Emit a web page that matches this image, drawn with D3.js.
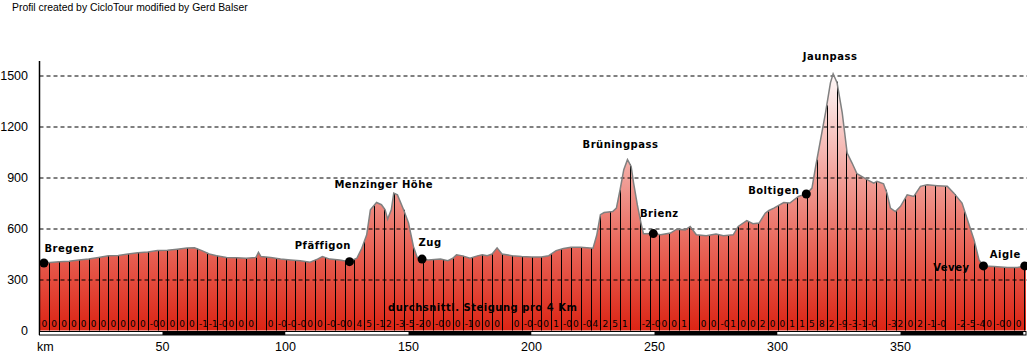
<!DOCTYPE html>
<html>
<head>
<meta charset="utf-8">
<script src="https://cdn.jsdelivr.net/npm/d3@7"></script>
<style>
  body { margin: 0; background: #fff; }
  svg { display: block; }
  .tick-label { font-family: "Liberation Sans", Arial, sans-serif; font-size: 12.5px; fill: #000; }
  .place { font-family: "DejaVu Sans", sans-serif; font-weight: bold; font-size: 10px; letter-spacing: 0.5px; fill: #000; }
  .grad { font-family: "DejaVu Sans", sans-serif; font-size: 9px; fill: #000; }
</style>
</head>
<body>
<div id="chart"></div>
<script>
// Hoehenprofil Bregenz - Aigle

const kmPts = [0, 3, 8, 12, 16, 20, 24, 28, 32, 36, 40, 44, 48, 52, 56, 60, 63, 66, 69, 72, 76, 80, 84, 88, 89, 90,
  94, 98, 102, 106, 110, 113, 115, 118, 122, 126, 129, 131, 133, 134.5, 137, 139, 140.5, 141.5, 143, 144, 145.5,
  148, 150, 152, 153.5, 155.5, 158, 163, 166, 168, 169.5, 172, 175, 178, 180, 182, 184, 186, 188, 192, 196, 200,
  204, 207, 210, 213, 216, 220, 225, 226.5, 228, 229.5, 233, 234.5, 236, 237.5, 239, 240.5, 241.5, 243, 244.5,
  245.5, 249.5, 252.5, 256.5, 259, 262.5, 264.5, 267, 271, 275, 278, 282, 284, 287.5, 290, 292.5, 295, 296.5,
  298.5, 302.5, 305, 308.5, 311.7, 314, 315.5, 317.5, 319.5, 321.5, 322.6, 324.2, 326.3, 328.3, 330.3, 332.3,
  336.4, 339.1, 340.4, 343.1, 344.5, 345.9, 347.9, 350, 352.7, 355.4, 358.1, 360.8, 364.9, 369, 371.7, 375,
  377.2, 379.9, 381.9, 383.7, 388, 393.5, 397.5, 400.5, 401];
const elevPts = [395, 398, 405, 408, 415, 420, 430, 440, 441, 450, 458, 462, 470, 472, 478, 485, 487, 470, 450, 440,
  430, 428, 425, 430, 460, 435, 430, 420, 415, 410, 402, 420, 435, 420, 415, 405, 425, 484, 563, 710, 753, 740,
  710, 655, 710, 808, 798, 710, 632, 494, 431, 420, 415, 420, 411, 425, 445, 439, 425, 439, 445, 440, 450, 486,
  450, 440, 435, 432, 432, 440, 470, 482, 490, 490, 484, 560, 681, 694, 700, 720, 828, 946, 1005, 965, 867, 740,
  632, 569, 570, 563, 573, 596, 592, 612, 563, 557, 567, 557, 563, 612, 647, 628, 632, 690, 706, 720, 753, 750,
  789, 803, 838, 965, 1123, 1280, 1457, 1510, 1457, 1280, 1044, 985, 922, 887, 867, 877, 863, 808, 720, 700, 730,
  798, 789, 848, 857, 852, 848, 808, 750, 651, 533, 415, 380, 376, 370, 370, 380, 382];

// durchschnittliche Steigung pro 4 km (Segmente ab km 0)
const gradLabels = ["0", "0", "0", "0", "0", "0", "0", "0", "0", "0", "0", "-0", "0", "0", "0", "0", "-1", "-1", "-0", "0",
  "0", "0", "", "0", "-0", "-0", "-0", "0", "0", "-0", "-0", "0", "4", "5", "-1", "2", "-3", "-5", "-2", "0",
  "-0", "0", "0", "-1", "0", "0", "0", "", "0", "-0", "-0", "0", "1", "-0", "0", "-0", "4", "2", "5", "1",
  "", "-2", "-0", "0", "0", "1", "", "0", "0", "-0", "1", "0", "0", "2", "0", "0", "1", "1", "5", "8",
  "2", "-9", "-3", "-1", "-0", "", "-3", "2", "0", "2", "-1", "-0", "", "-2", "-5", "-4", "0", "-0", "0", "0", ""];

const placeNames = ["Bregenz", "Pfäffigon", "Zug", "Brienz", "Boltigen", "Vevey", "Aigle"];
const placeKm = [1.8, 126, 155.5, 249.5, 311.7, 383.7, 400.5];
const passNames = ["Menzinger Höhe", "Brüningpass", "Jaunpass"];
const passKm = [144, 239, 322.6];

const yTicks = [0, 300, 600, 900, 1200, 1500];
const xTicks = [50, 100, 150, 200, 250, 300, 350];
const barStops = [0, 50, 100, 150, 200, 250, 300, 350, 400, 401];

const width = 1027, height = 357;
const x = d3.scaleLinear().domain([0, 401]).range([39.5, 1026]);
const y = d3.scaleLinear().domain([0, 1500]).range([330.5, 75.5]);

const profile = kmPts.map((k, i) => ({ km: k, elev: elevPts[i] }));
const elevAt = k => {
  const i = Math.max(1, Math.min(kmPts.length - 1, d3.bisectLeft(kmPts, k)));
  const a = profile[i - 1], b = profile[i];
  const t = (k - a.km) / (b.km - a.km);
  return a.elev + (b.elev - a.elev) * Math.max(0, Math.min(1, t));
};

const svg = d3.select("#chart").append("svg")
  .attr("width", width)
  .attr("height", height);

svg.append("text")
  .attr("x", 12).attr("y", 11)
  .attr("font-family", "Liberation Sans, Arial, sans-serif")
  .attr("font-size", "10.4px")
  .text("Profil created by CicloTour modified by Gerd Balser");

const defs = svg.append("defs");
const grad = defs.append("linearGradient")
  .attr("id", "fillGrad")
  .attr("gradientUnits", "userSpaceOnUse")
  .attr("x1", 0).attr("x2", 0)
  .attr("y1", y(0)).attr("y2", y(1500));
grad.append("stop").attr("offset", "0%").attr("stop-color", "#dc2414");
grad.append("stop").attr("offset", "35%").attr("stop-color", "#e96a5e");
grad.append("stop").attr("offset", "100%").attr("stop-color", "#fff8f8");

// Flaeche
const area = d3.area()
  .x(d => x(d.km))
  .y0(y(0))
  .y1(d => y(d.elev));

svg.append("path")
  .datum(profile)
  .attr("d", area)
  .attr("fill", "url(#fillGrad)");

// Gitterlinien
svg.append("g")
  .selectAll("line")
  .data(yTicks.filter(v => v > 0))
  .enter().append("line")
  .attr("x1", x(0)).attr("x2", width)
  .attr("y1", d => y(d) + 0.5).attr("y2", d => y(d) + 0.5)
  .attr("stroke", "#000")
  .attr("stroke-dasharray", "4,3");

// Segmentlinien alle 4 km
const segStarts = gradLabels.map((g, i) => i * 4);
svg.append("g")
  .selectAll("line")
  .data(segStarts.filter(k => k > 0))
  .enter().append("line")
  .attr("x1", d => Math.round(x(d)) + 0.5).attr("x2", d => Math.round(x(d)) + 0.5)
  .attr("y1", y(0)).attr("y2", d => y(elevAt(d)))
  .attr("stroke", "#000")
  .attr("stroke-width", 1);

// Profillinie
svg.append("path")
  .datum(profile)
  .attr("d", d3.line().x(d => x(d.km)).y(d => y(d.elev)))
  .attr("fill", "none")
  .attr("stroke", "#808080")
  .attr("stroke-width", 1.5);

// Steigungswerte
svg.append("g")
  .selectAll("text")
  .data(gradLabels)
  .enter().append("text")
  .attr("class", "grad")
  .attr("x", (d, i) => x(i * 4) + 2)
  .attr("y", 326.5)
  .text(d => d);

svg.append("text")
  .attr("class", "place")
  .attr("x", 388).attr("y", 311)
  .attr("font-size", "10.5px")
  .attr("letter-spacing", "0.4px")
  .text("durchsnittl. Steigung pro 4 Km");

// Achse
svg.append("line")
  .attr("x1", 39.5).attr("x2", 39.5)
  .attr("y1", 61).attr("y2", 335)
  .attr("stroke", "#000").attr("stroke-width", 1.5);

svg.append("g")
  .selectAll("text")
  .data(yTicks)
  .enter().append("text")
  .attr("class", "tick-label")
  .attr("x", 28)
  .attr("y", d => y(d))
  .attr("dy", "0.36em")
  .attr("text-anchor", "end")
  .text(d => d);

// Massstab
const bar = svg.append("g");
bar.selectAll("rect")
  .data(d3.pairs(barStops))
  .enter().append("rect")
  .attr("x", d => x(d[0]))
  .attr("width", d => x(d[1]) - x(d[0]))
  .attr("y", 331)
  .attr("height", 4)
  .attr("fill", (d, i) => i % 2 ? "#000" : "#fff");
bar.append("rect")
  .attr("x", x(0)).attr("y", 331.5)
  .attr("width", x(401) - x(0)).attr("height", 3.5)
  .attr("fill", "none").attr("stroke", "#000");

svg.append("g")
  .selectAll("text")
  .data(xTicks)
  .enter().append("text")
  .attr("class", "tick-label")
  .attr("x", d => x(d))
  .attr("y", 351)
  .attr("text-anchor", "middle")
  .text(d => d);

svg.append("text")
  .attr("class", "tick-label")
  .attr("x", 37).attr("y", 351)
  .text("km");

// Orte
const placeOffsets = [[0.5, -11, "start"], [1.5, -13, "end"], [-3.5, -13, "start"], [6, -17, "middle"],
  [-7, 0, "end"], [-14, 5, "end"], [-4, -8, "end"]];

const places = placeNames.map((n, i) => ({ name: n, km: placeKm[i], elev: elevAt(placeKm[i]), off: placeOffsets[i] }));

svg.append("g")
  .selectAll("circle")
  .data(places)
  .enter().append("circle")
  .attr("cx", d => x(d.km))
  .attr("cy", d => y(d.elev))
  .attr("r", 4.5)
  .attr("fill", "#000");

svg.append("g")
  .selectAll("text")
  .data(places)
  .enter().append("text")
  .attr("class", "place")
  .attr("x", d => x(d.km) + d.off[0])
  .attr("y", d => y(d.elev) + d.off[1])
  .attr("text-anchor", d => d.off[2])
  .text(d => d.name);

const passOffsets = [[-10, -5], [-7, -12], [-3, -14]];
svg.append("g")
  .selectAll("text")
  .data(passNames)
  .enter().append("text")
  .attr("class", "place")
  .attr("x", (d, i) => x(passKm[i]) + passOffsets[i][0])
  .attr("y", (d, i) => y(elevAt(passKm[i])) + passOffsets[i][1])
  .attr("text-anchor", "middle")
  .text(d => d);
</script>
</body>
</html>
